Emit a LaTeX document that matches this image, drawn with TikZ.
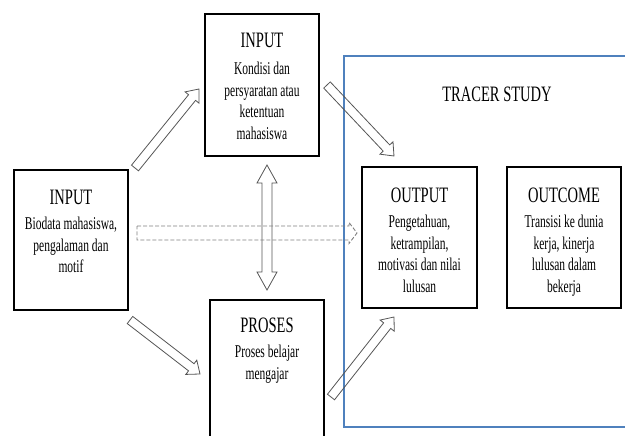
\documentclass[tikz,border=0pt]{standalone}
\usepackage{fontspec}
\setmainfont{Liberation Serif}
\usetikzlibrary{calc, fit, positioning}
\definecolor{tracerblue}{RGB}{79, 129, 189}
\definecolor{arrowgray}{RGB}{85, 85, 85}

% hollow block arrow: [style]{from}{to}{half shaft}{half head}{head length}
\newcommand{\hollowarrow}[6][]{%
  \coordinate (hb) at ($(#3)!#6!(#2)$);
  \draw[arrowline, #1]
    ($(#2)!#4!90:(#3)$) -- ($(hb)!#4!90:(#3)$) -- ($(hb)!#5!90:(#3)$) -- (#3)
    -- ($(hb)!#5!-90:(#3)$) -- ($(hb)!#4!-90:(#3)$) -- ($(#2)!#4!-90:(#3)$) -- cycle;
}
% hollow block arrow with two heads
\newcommand{\hollowarrowboth}[6][]{%
  \coordinate (ha) at ($(#2)!#6!(#3)$);
  \coordinate (hb) at ($(#3)!#6!(#2)$);
  \draw[arrowline, #1]
    (#2) -- ($(ha)!#5!90:(#3)$) -- ($(ha)!#4!90:(#3)$) -- ($(hb)!#4!90:(#3)$)
    -- ($(hb)!#5!90:(#3)$) -- (#3) -- ($(hb)!#5!-90:(#3)$) -- ($(hb)!#4!-90:(#3)$)
    -- ($(ha)!#4!-90:(#3)$) -- ($(ha)!#5!-90:(#3)$) -- cycle;
}

\begin{document}
\begin{tikzpicture}[x=1pt, y=-1pt,
    box/.style={draw=black, line width=1.3pt, inner sep=0pt},
    frame/.style={draw=tracerblue, line width=1.4pt, inner sep=0pt},
    ttl/.style={font=\fontsize{22}{26}\selectfont, xscale=0.66, anchor=base, inner sep=0pt},
    txt/.style={font=\fontsize{18}{21.7}\selectfont, xscale=0.64, align=center, anchor=north, inner sep=0pt},
    arrowline/.style={draw=arrowgray, line width=0.8pt, line join=miter}]

  \useasboundingbox (0,0) rectangle (625,436);
  \clip (0,0) rectangle (625,436);

  % bingkai tracer study (terpotong di kanan)
  \node[frame, fit={(344,56) (640,427)}] (tracer) {};
  \coordinate (trc) at (497,102);
  \node[ttl] (tracerT) at (trc) {TRACER STUDY};

  % kotak-kotak
  \node[box, fit={(14,170) (128,310)}] (inL) {};
  \node[box, fit={(205,14) (319,156)}] (inT) {};
  \node[box, fit={(210,300) (324,460)}] (pros) {};
  \node[box, fit={(362,167) (477,308)}] (outp) {};
  \node[box, fit={(507,167) (621,308)}] (outc) {};

  % teks dalam kotak
  \node[ttl] (inLt) at ($(inL.north)+(0,35)$) {INPUT};
  \node[txt] (inLb) at ($(inL.north)+(0,47.5)$) {Biodata mahasiswa,\\pengalaman dan\\motif};
  \node[ttl] (inTt) at ($(inT.north)+(0,34)$) {INPUT};
  \node[txt] (inTb) at ($(inT.north)+(0,48.5)$) {Kondisi dan\\persyaratan atau\\ketentuan\\mahasiswa};
  \node[ttl] (prost) at ($(pros.north)+(0,33)$) {PROSES};
  \node[txt] (prosb) at ($(pros.north)+(0,45.5)$) {Proses belajar\\mengajar};
  \node[ttl] (outpt) at ($(outp.north)+(0,36)$) {OUTPUT};
  \node[txt] (outpb) at ($(outp.north)+(0,48.5)$) {Pengetahuan,\\ketrampilan,\\motivasi dan nilai\\lulusan};
  \node[ttl] (outct) at ($(outc.north)+(0,36)$) {OUTCOME};
  \node[txt] (outcb) at ($(outc.north)+(0,48.5)$) {Transisi ke dunia\\kerja, kinerja\\lulusan dalam\\bekerja};

  % ujung-ujung panah
  \coordinate (a1s) at (135,168);
  \coordinate (a1e) at (199,89);
  \coordinate (a2s) at (130,320);
  \coordinate (a2e) at (200,374);
  \coordinate (a3s) at (327,85);
  \coordinate (a3e) at (394,156);
  \coordinate (a4s) at (331,397);
  \coordinate (a4e) at (394,317);
  \coordinate (v1) at (267,165);
  \coordinate (v2) at (267,290);
  \coordinate (d1) at (137,233);
  \coordinate (d2) at (357,233);

  % panah blok
  \hollowarrow{a1s}{a1e}{4.5pt}{9pt}{11pt}
  \hollowarrow{a2s}{a2e}{4.5pt}{9pt}{11pt}
  \hollowarrow{a3s}{a3e}{4.5pt}{9pt}{11pt}
  \hollowarrow{a4s}{a4e}{4.5pt}{9pt}{11pt}
  \hollowarrowboth{v1}{v2}{5pt}{10pt}{18pt}

  % panah putus-putus
  \hollowarrow[draw=gray, line width=0.9pt, dash pattern=on 4pt off 2pt]{d1}{d2}{7pt}{10.5pt}{8pt}

\end{tikzpicture}
\end{document}
